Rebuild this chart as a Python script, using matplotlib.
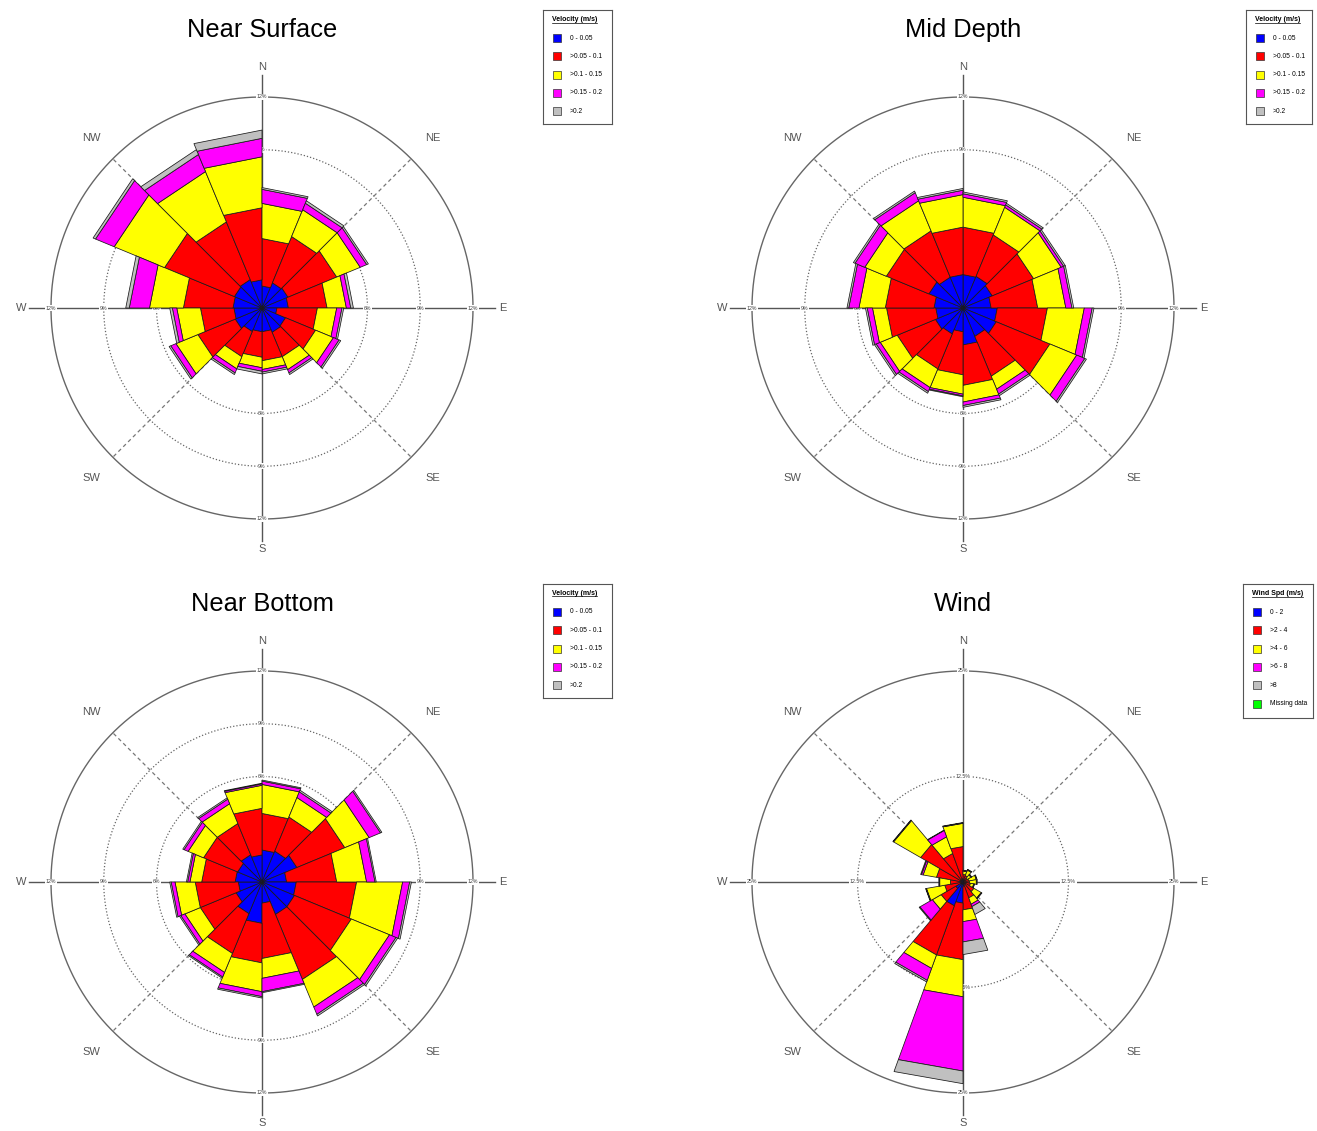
import numpy as np
import matplotlib.pyplot as plt
from matplotlib.patches import Rectangle

plt.rcParams['font.family'] = ['Liberation Sans', 'DejaVu Sans']

W, H = 1317, 1131

speed_colors = ['#0000ff', '#ff0000', '#ffff00', '#ff00ff', '#c0c0c0']
vel_labels = ['0 - 0.05', '>0.05 - 0.1', '>0.1 - 0.15', '>0.15 - 0.2', '>0.2']
wind_labels = ['0 - 2', '>2 - 4', '>4 - 6', '>6 - 8', '>8', 'Missing data']
wind_colors = speed_colors + ['#00ff00']

# % of records per direction sector (clockwise from N), one list per speed class
surf_a = [1.25, 1.55, 1.60, 1.50, 0.85, 1.45, 1.50, 1.35, 1.35, 1.45, 1.65, 1.60, 1.65, 1.70, 1.75, 1.60]
surf_b = [2.70, 2.85, 3.00, 2.20, 2.30, 1.85, 1.50, 1.65, 1.45, 1.55, 2.30, 1.90, 2.82, 4.30, 3.55, 4.10]
surf_c = [2.00, 1.65, 1.45, 1.10, 1.10, 1.10, 0.80, 0.50, 0.60, 0.75, 1.35, 1.35, 1.93, 3.10, 3.10, 2.90]
surf_d = [0.80, 0.40, 0.40, 0.25, 0.30, 0.35, 0.20, 0.15, 0.20, 0.25, 0.32, 0.25, 1.15, 1.15, 1.05, 1.05]
surf_e = [0.10, 0.15, 0.10, 0.15, 0.10, 0.10, 0.10, 0.10, 0.15, 0.10, 0.10, 0.15, 0.20, 0.15, 0.30, 0.47]

mid_a = [1.90, 1.95, 1.80, 1.60, 1.95, 2.05, 1.75, 2.10, 1.35, 1.60, 1.70, 1.55, 1.65, 2.10, 1.90, 1.90]
mid_b = [2.70, 2.55, 2.55, 2.65, 2.85, 3.30, 2.45, 2.30, 2.45, 2.15, 2.35, 2.80, 2.77, 2.62, 2.85, 2.70]
mid_c = [1.70, 1.70, 1.70, 1.60, 2.10, 1.65, 0.80, 0.95, 1.10, 1.15, 1.05, 0.80, 1.50, 1.33, 1.85, 1.85]
mid_d = [0.20, 0.15, 0.15, 0.35, 0.45, 0.50, 0.30, 0.20, 0.10, 0.25, 0.25, 0.30, 0.58, 0.60, 0.50, 0.25]
mid_e = [0.10, 0.10, 0.10, 0.10, 0.10, 0.10, 0.10, 0.10, 0.05, 0.10, 0.10, 0.10, 0.10, 0.10, 0.10, 0.10]

bot_a = [1.82, 1.90, 2.15, 1.40, 1.95, 2.00, 2.00, 1.20, 2.35, 1.95, 1.60, 1.35, 1.53, 1.50, 1.68, 1.54]
bot_b = [2.08, 2.10, 2.95, 2.85, 3.43, 3.50, 4.00, 3.15, 2.25, 2.45, 2.20, 2.45, 1.90, 2.10, 1.92, 2.65]
bot_c = [1.65, 1.20, 1.50, 1.70, 2.62, 2.35, 1.70, 1.13, 1.64, 1.17, 0.95, 1.15, 0.67, 0.95, 1.22, 1.31]
bot_d = [0.19, 0.35, 0.70, 0.48, 0.40, 0.40, 0.45, 0.76, 0.28, 0.28, 0.25, 0.22, 0.13, 0.25, 0.28, 0.08]
bot_e = [0.06, 0.10, 0.08, 0.07, 0.10, 0.10, 0.10, 0.06, 0.08, 0.07, 0.08, 0.08, 0.07, 0.08, 0.08, 0.04]

# wind uses 18 sectors of 20 degrees
wind_a = [0.3, 0.3, 0.2, 0.2, 0.2, 0.3, 0.3, 0.3, 0.5, 2.5, 3.0, 1.0, 0.3, 0.3, 0.3, 0.3, 0.3, 0.4]
wind_b = [0.6, 0.5, 0.4, 0.5, 0.6, 0.6, 1.2, 1.7, 2.8, 6.7, 6.2, 2.0, 1.9, 1.2, 2.9, 5.5, 3.3, 3.8]
wind_c = [0.4, 0.7, 0.5, 0.9, 0.8, 0.4, 1.0, 0.8, 1.4, 4.4, 1.7, 1.2, 2.2, 1.3, 1.6, 3.7, 2.1, 2.75]
wind_d = [0.05, 0.05, 0.05, 0.05, 0.05, 0.05, 0.05, 0.3, 2.4, 8.8, 1.5, 1.7, 0.05, 0.05, 0.2, 0.05, 0.8, 0.05]
wind_e = [0.05, 0.05, 0.05, 0.05, 0.05, 0.05, 0.05, 1.0, 1.5, 1.5, 0.2, 0.1, 0.05, 0.05, 0.1, 0.05, 0.05, 0.05]

fig = plt.figure(figsize=(W / 100, H / 100), dpi=100)
fig.patch.set_facecolor('white')

RAD = 250      # axes half size in px
OUTER = 211    # px radius of the outer ring


def rose(cx, cy, title, classes, rings, ring_txt):
    ax = fig.add_axes([(cx - RAD) / W, 1 - (cy + RAD) / H, 2 * RAD / W, 2 * RAD / H],
                      projection='polar')
    ax.set_theta_zero_location('N')
    ax.set_theta_direction(-1)
    rmax = rings[-1]
    ax.set_ylim(0, rmax * RAD / OUTER)
    ax.axis('off')

    # grid: dotted rings, solid outer ring, cross and diagonals
    t = np.linspace(0, 2 * np.pi, 400)
    for r in rings[:-1]:
        ax.plot(t, np.full_like(t, r), color='#666666', lw=0.9, ls=(0, (1, 1.6)), zorder=1)
    ax.plot(t, np.full_like(t, rmax), color='#666666', lw=1.0, zorder=1)
    ext = rmax * 233 / OUTER
    for a in (0, 90, 180, 270):
        ax.plot([np.radians(a)] * 2, [0, ext], color='#555555', lw=1.0, zorder=1)
    for a in (45, 135, 225, 315):
        ax.plot([np.radians(a)] * 2, [0, rmax], color='#777777', lw=0.9,
                ls=(0, (3, 2.5)), zorder=1)
    for r, s in zip(rings, ring_txt):
        for a in (0, 90, 180, 270):
            ax.text(np.radians(a), r, s, fontsize=3.8, color='#444444', ha='center',
                    va='center', zorder=2,
                    bbox=dict(facecolor='white', edgecolor='none', pad=0.4))

    # stacked sectors, drawn as flat-edged wedges
    n = len(classes[0])
    width = 2 * np.pi / n
    bottom = np.zeros(n)
    for vals, c in zip(classes, speed_colors):
        top = bottom + np.asarray(vals)
        for i in range(n):
            t0, t1 = i * width, (i + 1) * width
            ax.fill([t0, t1, t1, t0], [bottom[i], bottom[i], top[i], top[i]],
                    facecolor=c, edgecolor='#1a1a1a', linewidth=0.55, zorder=3)
        bottom = top

    lab_r = rmax * 241 / OUTER
    for a, s in zip(range(0, 360, 45), ['N', 'NE', 'E', 'SE', 'S', 'SW', 'W', 'NW']):
        ax.text(np.radians(a), lab_r, s, fontsize=8, color='#555555', ha='center',
                va='center', clip_on=False)

    fig.text(cx / W, 1 - (cy - 271) / H, title, fontsize=18.3, ha='center',
             va='baseline')


def legend(x0, y0, x1, y1, title, labels, cols):
    lax = fig.add_axes([x0 / W, 1 - y1 / H, (x1 - x0) / W, (y1 - y0) / H])
    lax.set_xlim(x0, x1)
    lax.set_ylim(y1, y0)
    lax.set_xticks([])
    lax.set_yticks([])
    for s in lax.spines.values():
        s.set_color('#555555')
        s.set_linewidth(0.8)
    tt = lax.text(x0 + 9, y0 + 11, title, fontsize=5.0, weight='bold', va='baseline')
    fig.canvas.draw()
    bb = tt.get_window_extent().transformed(lax.transData.inverted())
    lax.plot([bb.x0, bb.x1], [y0 + 12.5, y0 + 12.5], color='black', lw=0.5)
    for i, (lab, c) in enumerate(zip(labels, cols)):
        y = y0 + 28 + i * 18.3
        lax.add_patch(Rectangle((x0 + 10, y - 4), 8, 8, facecolor=c,
                                edgecolor='#333333', lw=0.5))
        lax.text(x0 + 27, y, lab, fontsize=4.8, va='center')


pct12 = ['3%', '6%', '9%', '12%']
rose(262, 308, 'Near Surface', [surf_a, surf_b, surf_c, surf_d, surf_e], [3, 6, 9, 12], pct12)
rose(963, 308, 'Mid Depth', [mid_a, mid_b, mid_c, mid_d, mid_e], [3, 6, 9, 12], pct12)
rose(262, 882, 'Near Bottom', [bot_a, bot_b, bot_c, bot_d, bot_e], [3, 6, 9, 12], pct12)
rose(963, 882, 'Wind', [wind_a, wind_b, wind_c, wind_d, wind_e], [12.5, 25], ['12.5%', '25%'])

legend(543, 10, 612, 124, 'Velocity (m/s)', vel_labels, speed_colors)
legend(1246, 10, 1312, 124, 'Velocity (m/s)', vel_labels, speed_colors)
legend(543, 584, 612, 698, 'Velocity (m/s)', vel_labels, speed_colors)
legend(1243, 584, 1313, 718, 'Wind Spd (m/s)', wind_labels, wind_colors)

fig.savefig('out.png', dpi=100, facecolor='white')
